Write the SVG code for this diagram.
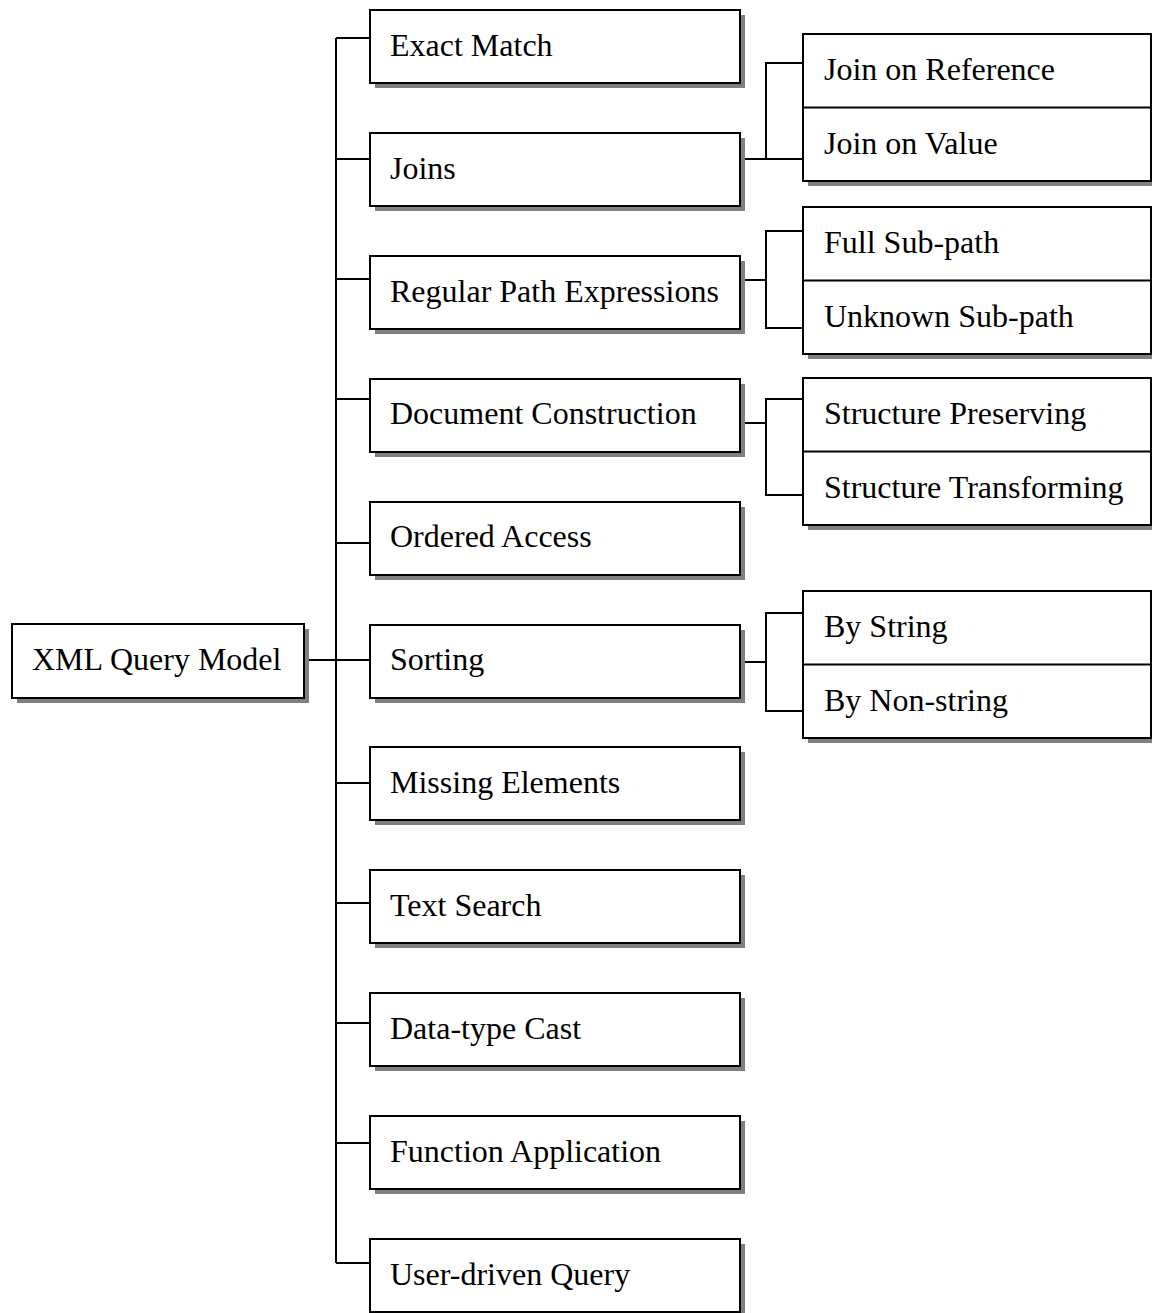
<svg xmlns="http://www.w3.org/2000/svg" width="1152" height="1313" viewBox="0 0 1152 1313">
  <style>
    .box { fill: #ffffff; stroke: #000000; stroke-width: 2; }
    .shadow { fill: #808080; stroke: none; }
    .lbl { font-family: "Liberation Serif", "Times New Roman", serif; font-size: 32px; fill: #000000; }
    .wire { fill: none; stroke: #000000; stroke-width: 2; }
  </style>
  <defs>
    <!-- main category box with drop shadow -->
    <g id="mainBox">
      <rect class="shadow" x="5" y="5" width="370" height="73"/>
      <rect class="box" x="0" y="0" width="370" height="73"/>
    </g>
    <!-- two-cell sub-category box with drop shadow -->
    <g id="pairBox">
      <rect class="shadow" x="5" y="5" width="349" height="147"/>
      <rect class="box" x="0" y="0" width="348" height="147"/>
      <line class="wire" x1="0" y1="73.5" x2="348" y2="73.5"/>
    </g>
  </defs>

  <rect width="1152" height="1313" fill="#ffffff"/>

  <!-- connectors -->
  <g id="connectors">
    <line class="wire" x1="336" y1="38" x2="336" y2="1263"/>
    <path class="wire" d="M304 660H370"/>
    <path class="wire" d="M336 38H370 M336 159H370 M336 279H370 M336 399H370 M336 543H370 M336 783H370 M336 903H370 M336 1023H370 M336 1143H370 M336 1263H370"/>
    <path class="wire" d="M740 159H766 M803 63H766V159H803"/>
    <path class="wire" d="M740 280H766 M803 231H766V328H803"/>
    <path class="wire" d="M740 423H766 M803 399H766V495H803"/>
    <path class="wire" d="M740 662H766 M803 613H766V711H803"/>
  </g>

  <!-- root -->
  <g id="xml-query-model">
    <rect class="shadow" x="17" y="629" width="292" height="74"/>
    <rect class="box" x="12" y="624" width="292" height="74"/>
    <text class="lbl" x="32" y="670">XML Query Model</text>
  </g>

  <!-- main categories -->
  <g id="exact-match"><use href="#mainBox" x="370" y="10"/><text class="lbl" x="390" y="56">Exact Match</text></g>
  <g id="joins"><use href="#mainBox" x="370" y="133"/><text class="lbl" x="390" y="179">Joins</text></g>
  <g id="regular-path-expressions"><use href="#mainBox" x="370" y="256"/><text class="lbl" x="390" y="302">Regular Path Expressions</text></g>
  <g id="document-construction"><use href="#mainBox" x="370" y="379"/><text class="lbl" x="390" y="424">Document Construction</text></g>
  <g id="ordered-access"><use href="#mainBox" x="370" y="502"/><text class="lbl" x="390" y="547">Ordered Access</text></g>
  <g id="sorting"><use href="#mainBox" x="370" y="625"/><text class="lbl" x="390" y="670">Sorting</text></g>
  <g id="missing-elements"><use href="#mainBox" x="370" y="747"/><text class="lbl" x="390" y="793">Missing Elements</text></g>
  <g id="text-search"><use href="#mainBox" x="370" y="870"/><text class="lbl" x="390" y="916">Text Search</text></g>
  <g id="data-type-cast"><use href="#mainBox" x="370" y="993"/><text class="lbl" x="390" y="1039">Data-type Cast</text></g>
  <g id="function-application"><use href="#mainBox" x="370" y="1116"/><text class="lbl" x="390" y="1162">Function Application</text></g>
  <g id="user-driven-query"><use href="#mainBox" x="370" y="1239"/><text class="lbl" x="390" y="1285">User-driven Query</text></g>

  <!-- sub-categories -->
  <g id="join-kinds">
    <use href="#pairBox" x="803" y="34"/>
    <text class="lbl" x="824" y="80">Join on Reference</text>
    <text class="lbl" x="824" y="154">Join on Value</text>
  </g>
  <g id="sub-path-kinds">
    <use href="#pairBox" x="803" y="207"/>
    <text class="lbl" x="824" y="253">Full Sub-path</text>
    <text class="lbl" x="824" y="327">Unknown Sub-path</text>
  </g>
  <g id="structure-kinds">
    <use href="#pairBox" x="803" y="378"/>
    <text class="lbl" x="824" y="424">Structure Preserving</text>
    <text class="lbl" x="824" y="498">Structure Transforming</text>
  </g>
  <g id="sort-kinds">
    <use href="#pairBox" x="803" y="591"/>
    <text class="lbl" x="824" y="637">By String</text>
    <text class="lbl" x="824" y="711">By Non-string</text>
  </g>
</svg>
